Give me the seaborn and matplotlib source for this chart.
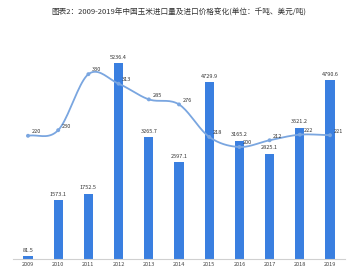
import numpy as np
import pandas as pd
import matplotlib
matplotlib.use("Agg")
import matplotlib.pyplot as plt
import seaborn as sns

years = ["2009", "2010", "2011", "2012", "2013", "2014", "2015", "2016", "2017", "2018", "2019"]
imports = [81.5, 1573.1, 1752.5, 5236.4, 3265.7, 2597.1, 4729.9, 3165.2, 2825.1, 3521.2, 4790.6]
prices = [220, 230, 330, 313, 285, 276, 218, 200, 212, 222, 221]
title = "图表2：2009-2019年中国玉米进口量及进口价格变化(单位：千吨、美元/吨)"

sns.set_theme(style="white")
plt.rcParams["font.family"] = ["Noto Sans CJK SC", "DejaVu Sans"]

fig = plt.figure(figsize=(3.58, 2.67), dpi=100)
ax = fig.add_axes([0.036, 0.030, 0.928, 0.839])

df = pd.DataFrame({"year": years, "imports": imports, "price": prices})
sns.barplot(data=df, x="year", y="imports", color="#3a7fe0", width=0.3, ax=ax,
            saturation=1, edgecolor="none")
ax.set_xlim(-0.5, 10.5)
ax.set_ylim(0, 6000)
for i, v in enumerate(imports):
    ax.text(i, v + 90, f"{v:.1f}", ha="center", va="bottom", fontsize=4, color="#333333")

ax2 = ax.twinx()
x = np.arange(len(prices), dtype=float)
y = np.array(prices, dtype=float)
# Catmull-Rom rendering of the curve through the data points
xs, ys = [], []
P = np.vstack([x, y]).T
Pext = np.vstack([P[0] - (P[1] - P[0]), P, P[-1] + (P[-1] - P[-2])])
t = np.linspace(0, 1, 20)
for k in range(1, len(Pext) - 2):
    p0, p1, p2, p3 = Pext[k - 1], Pext[k], Pext[k + 1], Pext[k + 2]
    seg = 0.5 * ((2 * p1)[None, :] + (-p0 + p2)[None, :] * t[:, None]
                 + (2 * p0 - 5 * p1 + 4 * p2 - p3)[None, :] * t[:, None] ** 2
                 + (-p0 + 3 * p1 - 3 * p2 + p3)[None, :] * t[:, None] ** 3)
    xs.extend(seg[:, 0]); ys.extend(seg[:, 1])
ax2.plot(xs, ys, color="#7aa6e0", lw=1.3, zorder=3)
sns.scatterplot(x=x, y=y, ax=ax2, color="#7aa6e0", s=8, edgecolor="none", zorder=4)
ax2.set_ylim(0, 400)
for i, v in enumerate(prices):
    ax2.text(i + 0.12, v + 3, f"{v}", ha="left", va="bottom", fontsize=4, color="#333333")

for a in (ax, ax2):
    a.set_yticks([])
    a.set_ylabel("")
    for s in ["top", "right", "left"]:
        a.spines[s].set_visible(False)
    a.spines["bottom"].set_visible(False)
ax.spines["bottom"].set_visible(True)
ax.spines["bottom"].set_color("#d0d0d0")
ax.spines["bottom"].set_linewidth(0.8)
ax.set_xlabel("")
ax.tick_params(axis="x", length=0, labelsize=4, colors="#444444", pad=2)

fig.text(0.5, 0.952, title, ha="center", va="center", fontsize=5.5, color="#333333")

fig.savefig("out.png", dpi=100)
